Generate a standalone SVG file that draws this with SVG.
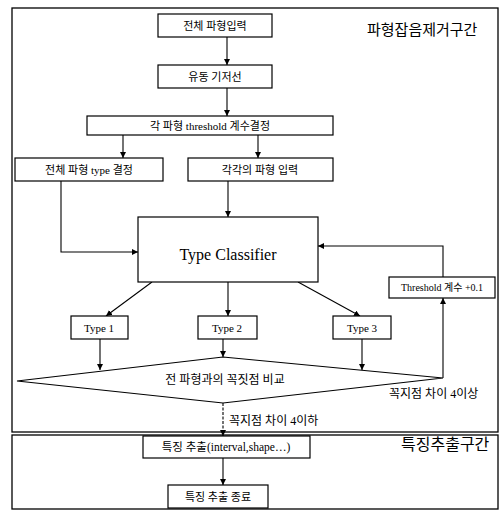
<svg xmlns="http://www.w3.org/2000/svg" width="502" height="510" viewBox="0 0 502 510">
<style>
.frame{fill:none;stroke:#000;stroke-width:1.3}
.box{fill:#fff;stroke:#000;stroke-width:1.2}
.ln{fill:none;stroke:#000;stroke-width:1.1}
.t{font-family:"Liberation Serif","Noto Sans CJK KR",serif;font-size:11px;fill:#000;text-anchor:middle}
.big{font-family:"Noto Sans CJK KR",sans-serif;font-size:15px;fill:#000}
</style>
<defs>
<marker id="ah" viewBox="0 0 10 10" refX="10" refY="5" markerWidth="6" markerHeight="6" orient="auto" markerUnits="userSpaceOnUse">
<path d="M0,0 L10,5 L0,10 z" fill="#000"/>
</marker>
</defs>
<rect id="zone-noise" class="frame" x="12" y="8" width="486" height="424"/>
<rect id="zone-feature" class="frame" x="12" y="435" width="486" height="74"/>
<text class="big" x="367" y="35">파형잡음제거구간</text>
<text class="big" x="401" y="450" style="font-size:16px">특징추출구간</text>
<g id="connectors">
<line class="ln" x1="227" y1="37" x2="227" y2="65" marker-end="url(#ah)"/>
<line class="ln" x1="227" y1="88" x2="227" y2="116" marker-end="url(#ah)"/>
<line class="ln" x1="123" y1="135" x2="123" y2="158" marker-end="url(#ah)"/>
<line class="ln" x1="258" y1="135" x2="258" y2="158" marker-end="url(#ah)"/>
<polyline class="ln" points="61,181 61,252 138,252" marker-end="url(#ah)"/>
<line class="ln" x1="228" y1="181" x2="228" y2="217" marker-end="url(#ah)"/>
<line class="ln" x1="152" y1="282" x2="106" y2="316" marker-end="url(#ah)"/>
<line class="ln" x1="228" y1="282" x2="228" y2="316" marker-end="url(#ah)"/>
<line class="ln" x1="298" y1="282" x2="360" y2="316" marker-end="url(#ah)"/>
<line class="ln" x1="100" y1="339" x2="100" y2="370" marker-end="url(#ah)"/>
<line class="ln" x1="223" y1="339" x2="223" y2="357" marker-end="url(#ah)"/>
<line class="ln" x1="362" y1="339" x2="362" y2="370" marker-end="url(#ah)"/>
<polyline class="ln" points="443,378 443,298" marker-end="url(#ah)"/>
<polyline class="ln" points="443,277 443,246 318,246" marker-end="url(#ah)"/>
<line class="ln" x1="223" y1="403" x2="223" y2="436" stroke-dasharray="3 1.5" marker-end="url(#ah)"/>
<line class="ln" x1="223" y1="458" x2="223" y2="485" marker-end="url(#ah)"/>
<text class="t" x="389" y="398" style="text-anchor:start;font-size:12px">꼭지점 차이 4이상</text>
<text class="t" x="229" y="425" style="text-anchor:start;font-size:12px">꼭지점 차이 4이하</text>
</g>
<g id="n-input">
<rect class="box" x="158" y="14" width="114" height="23"/>
<text class="t" x="215" y="30">전체 파형입력</text>
</g>
<g id="n-baseline">
<rect class="box" x="158" y="65" width="114" height="23"/>
<text class="t" x="215" y="81">유동 기저선</text>
</g>
<g id="n-threshold">
<rect class="box" x="87" y="116" width="246" height="19"/>
<text class="t" x="210" y="130">각 파형 threshold 계수결정</text>
</g>
<g id="n-type-decide">
<rect class="box" x="15" y="158" width="148" height="23"/>
<text class="t" x="89" y="174">전체 파형 type 결정</text>
</g>
<g id="n-each-input">
<rect class="box" x="188" y="158" width="145" height="23"/>
<text class="t" x="260" y="174">각각의 파형 입력</text>
</g>
<g id="n-classifier">
<rect class="box" x="138" y="217" width="180" height="65"/>
<text class="t" x="228" y="260" style="font-size:16px">Type Classifier</text>
</g>
<g id="n-th-inc">
<rect class="box" x="389" y="277" width="106" height="21"/>
<text class="t" x="442" y="291" style="font-size:10px">Threshold 계수 +0.1</text>
</g>
<g id="n-type1">
<rect class="box" x="71" y="316" width="57" height="23"/>
<text class="t" x="99" y="332">Type 1</text>
</g>
<g id="n-type2">
<rect class="box" x="198" y="316" width="59" height="23"/>
<text class="t" x="227" y="332">Type 2</text>
</g>
<g id="n-type3">
<rect class="box" x="333" y="316" width="58" height="23"/>
<text class="t" x="362" y="332">Type 3</text>
</g>
<g id="n-compare">
<polygon class="box" points="17,381 223,357 443,378 223,403"/>
<text class="t" x="225" y="384" style="font-size:12px">전 파형과의 꼭짓점 비교</text>
</g>
<g id="n-feature">
<rect class="box" x="143" y="436" width="167" height="22"/>
<text class="t" x="226" y="451" style="font-size:11.5px">특징 추출(interval,shape…)</text>
</g>
<g id="n-end">
<rect class="box" x="168" y="485" width="100" height="23"/>
<text class="t" x="218" y="501">특징 추출 종료</text>
</g>
</svg>
